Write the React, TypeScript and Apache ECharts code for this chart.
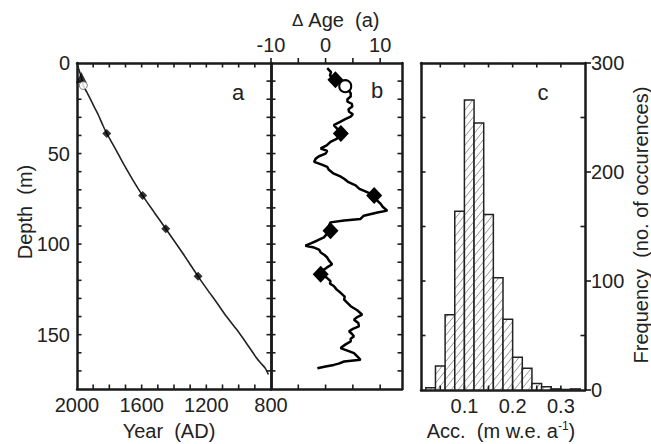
import React, { useEffect, useRef } from 'react';
import * as echarts from 'echarts';

// Panel a: age-depth curve
const aYear = [1998, 1985, 1972, 1961, 1940, 1920, 1895, 1868, 1842, 1816, 1765, 1713, 1655, 1594, 1522, 1451, 1350, 1251, 1195, 1135, 1075, 1012, 950, 888, 860, 836, 816];
const aDepth = [1, 4.5, 8.3, 12.4, 16, 19.4, 24, 28.7, 34, 38.9, 47, 55.6, 64.5, 73.2, 82.5, 91.5, 104.5, 117.8, 125, 132.4, 140, 147.2, 155, 163, 166, 168.5, 172];
const aDiamondYear = [1816, 1594, 1451, 1251];
const aDiamondDepth = [38.9, 73.2, 91.5, 117.8];
const aTriangle = [1973, 8];
const aCircle = [1961, 12.4];

// Panel b: delta age vs depth
const bDepth = [2.8, 5, 7, 9.3, 11, 13, 15, 16.7, 18.5, 20, 21.3, 22.5, 24, 25.5, 26.9, 28.3, 29.6, 31, 32.4, 34.3, 36.5, 38.9, 41.7, 43.5, 45.5, 47.2, 48.5, 50, 51.5, 52.8, 54.6, 56, 57.4, 59, 61.1, 62.5, 63.9, 65.8, 67.6, 69.5, 71.3, 73.1, 75.5, 77.8, 79.5, 81.5, 82.5, 84.3, 86.1, 87, 88, 90, 92.6, 94.5, 96.3, 98, 99.5, 100.9, 101.9, 103, 104.6, 106, 107.4, 109, 111.1, 113, 114.5, 116.7, 118.5, 120.4, 121.8, 123.1, 125, 126.9, 129, 130.6, 132.5, 134.3, 136.5, 138.9, 140.3, 141.7, 143.5, 145.4, 146.8, 148.1, 149.5, 150.9, 152.3, 153.7, 155.5, 157.4, 158.8, 160.2, 162, 163.9, 164.8, 166, 166.7, 167.6, 168.5];
const bAge = [0.3, 1.0, 0.8, 2.0, 2.5, 3.4, 4.2, 4.6, 4.6, 4.0, 4.0, 4.8, 4.9, 4.2, 4.3, 5.0, 4.6, 3.6, 2.75, 1.5, 2.2, 2.75, 2.1, 0.9, 0.2, -0.9, 0.3, 0, -1.2, -1.8, -2.1, -0.8, 0.3, 0.6, 1.5, 2.6, 3.4, 4.2, 5.5, 6.2, 7.6, 8.9, 9.3, 10.1, 10.5, 11.3, 9.5, 7.0, 6.4, 3.4, 0.9, 0.6, 0.9, 0.2, -0.3, -1.5, -2.6, -3.7, -2.1, -1.2, -0.9, -0.2, 0.3, 0.6, 1.2, 0.2, -0.5, -0.9, 0.2, 0.9, 0.8, 1.5, 2.0, 2.75, 3.5, 3.4, 4.0, 4.6, 5.8, 6.7, 5.8, 5.2, 6.0, 6.1, 5.0, 4.3, 4.8, 5.2, 4.6, 4.6, 3.6, 2.75, 4.0, 5.2, 5.8, 6.4, 3.4, 2.4, 1.5, 0, -1.5];
const bDiamondAge = [1.8, 2.8, 8.9, 0.9, -0.9];
const bDiamondDepth = [9.3, 38.9, 73.1, 92.6, 116.7];
const bCircle = [3.6, 12.8];

// Panel c: histogram of accumulation
const binStart = [0.02, 0.04, 0.06, 0.08, 0.10, 0.12, 0.14, 0.16, 0.18, 0.20, 0.22, 0.24, 0.26, 0.28, 0.30, 0.32];
const binWidth = 0.02;
const freq = [2, 22, 69, 164, 266, 245, 161, 103, 65, 30, 20, 6, 3, 1, 0.5, 1];

// Axis ranges
const yearMin = 800, yearMax = 2000;
const depthMin = 0, depthMax = 180;
const ageMin = -10, ageMax = 14;
const accMin = 0.01, accMax = 0.35;
const freqMin = 0, freqMax = 300;

// Tick labels and tick positions
const yearLabels = [2000, 1600, 1200, 800];
const yearTicks = [900, 1000, 1100, 1200, 1300, 1400, 1500, 1600, 1700, 1800, 1900];
const depthLabels = [0, 50, 100, 150];
const depthTicks = [10, 20, 30, 40, 50, 60, 70, 80, 90, 100, 110, 120, 130, 140, 150, 160, 170];
const ageLabels = [-10, 0, 10];
const ageTicks = [-5, 0, 5, 10];
const accLabels = [0.1, 0.2, 0.3];
const accTicks = [0.05, 0.1, 0.15, 0.2, 0.25, 0.3];
const freqLabels = [0, 100, 200, 300];
const freqMajor = [0, 100, 200, 300];
const freqMinor = [50, 150, 250];
const freqLeftTicks = [50, 100, 150, 200, 250];

const FONT = 'Liberation Sans, Arial, sans-serif';
const AX = '#1a1a1a';

export default function App() {
  const ref = useRef<HTMLDivElement>(null);
  useEffect(() => {
    if (!ref.current) return;
    const chart = echarts.init(ref.current, null, { renderer: 'svg' });
    const axisLine = { show: true, onZero: false, lineStyle: { color: AX, width: 2.5 } };
    const label = { color: '#222', fontSize: 20, fontFamily: FONT, formatter: (v: number) => String(v) };
    const noLabel = { show: false };
    const noTick = { show: false };
    const depthAxis = (gi: number, pos: string, extra: any = {}) => ({
      type: 'value', gridIndex: gi, position: pos, min: depthMin, max: depthMax, interval: 10, inverse: true,
      axisLine, axisTick: noTick, axisLabel: noLabel, splitLine: { show: false }, ...extra,
    });

    const bars = binStart.map((s, i) => [s, s + binWidth, freq[i]]);

    // tick items: [x value, y value, dx px, dy px]
    const ticksA = [
      ...yearTicks.map((v) => [v, depthMin, 0, 4.5]),
      ...yearTicks.map((v) => [v, depthMax, 0, -4.5]),
      ...depthTicks.map((d) => [yearMax, d, 4.5, 0]),
      ...depthTicks.map((d) => [yearMin, d, -4.5, 0]),
    ];
    const ticksB = [
      ...ageTicks.map((v) => [v, depthMin, 0, -5]),
      [ageMin, depthMin, 0, -5],
      ...ageTicks.map((v) => [v, depthMax, 0, -4.5]),
      ...depthTicks.map((d) => [ageMin, d, 4.5, 0]),
      ...depthTicks.map((d) => [ageMax, d, -4.5, 0]),
    ];
    const ticksC = [
      ...accTicks.map((v) => [v, freqMax, 0, 4.5]),
      ...accTicks.map((v) => [v, freqMin, 0, -4.5]),
      ...freqLeftTicks.map((f) => [accMin, f, 4.5, 0]),
      ...freqMajor.map((f) => [accMax, f, 6, 0]),
      ...freqMinor.map((f) => [accMax, f, -4.5, 0]),
    ];
    const tickSeries = (xi: number, yi: number, data: number[][]) => ({
      type: 'custom', xAxisIndex: xi, yAxisIndex: yi, data, encode: { x: 0, y: 1 }, clip: false, z: 5,
      renderItem: (params: any, api: any) => {
        const p = api.coord([api.value(0), api.value(1)]);
        const dx = api.value(2), dy = api.value(3);
        return { type: 'line', shape: { x1: p[0], y1: p[1], x2: p[0] + dx, y2: p[1] + dy },
          style: { stroke: AX, lineWidth: 1.6 } };
      },
    });

    const option: any = {
      animation: false,
      backgroundColor: '#fff',
      grid: [
        { left: 77, top: 63, width: 194, height: 326, containLabel: false, outerBoundsMode: 'none' },
        { left: 271, top: 63, width: 131, height: 326, containLabel: false, outerBoundsMode: 'none' },
        { left: 421, top: 63, width: 164, height: 327, containLabel: false, outerBoundsMode: 'none' },
      ],
      xAxis: [
        { type: 'value', gridIndex: 0, position: 'bottom', min: yearMin, max: yearMax, interval: 100, inverse: true,
          axisLine, axisTick: noTick, splitLine: { show: false },
          axisLabel: { ...label, margin: 6, customValues: yearLabels } },
        { type: 'value', gridIndex: 0, position: 'top', min: yearMin, max: yearMax, interval: 100, inverse: true,
          axisLine, axisTick: noTick, splitLine: { show: false }, axisLabel: noLabel },
        { type: 'value', gridIndex: 1, position: 'bottom', min: ageMin, max: ageMax, interval: 5,
          axisLine, axisTick: noTick, splitLine: { show: false }, axisLabel: noLabel },
        { type: 'value', gridIndex: 1, position: 'top', min: ageMin, max: ageMax, interval: 5,
          axisLine, axisTick: noTick, splitLine: { show: false },
          axisLabel: { ...label, margin: 8, customValues: ageLabels } },
        { type: 'value', gridIndex: 2, position: 'bottom', min: accMin, max: accMax,
          axisLine, axisTick: noTick, splitLine: { show: false },
          axisLabel: { ...label, margin: 6, customValues: accLabels, formatter: (v: number) => v.toFixed(1) } },
        { type: 'value', gridIndex: 2, position: 'top', min: accMin, max: accMax,
          axisLine, axisTick: noTick, splitLine: { show: false }, axisLabel: noLabel },
      ],
      yAxis: [
        depthAxis(0, 'left', { axisLabel: { ...label, margin: 7, customValues: depthLabels } }),
        depthAxis(0, 'right'),
        depthAxis(1, 'left'),
        depthAxis(1, 'right'),
        { type: 'value', gridIndex: 2, position: 'left', min: freqMin, max: freqMax, interval: 50,
          axisLine, axisTick: noTick, splitLine: { show: false }, axisLabel: noLabel },
        { type: 'value', gridIndex: 2, position: 'right', min: freqMin, max: freqMax, interval: 100,
          axisLine, axisTick: noTick,
          splitLine: { show: false }, axisLabel: { ...label, margin: 6, customValues: freqLabels } },
      ],
      series: [
        { type: 'line', xAxisIndex: 0, yAxisIndex: 0, smooth: 0.3, showSymbol: false, symbol: 'none',
          data: aYear.map((y, i) => [y, aDepth[i]]), lineStyle: { color: '#222', width: 1.6 }, z: 2 },
        { type: 'scatter', xAxisIndex: 0, yAxisIndex: 0, symbol: 'diamond', symbolSize: 9,
          data: aDiamondYear.map((y, i) => [y, aDiamondDepth[i]]), itemStyle: { color: '#000' }, z: 3 },
        { type: 'scatter', xAxisIndex: 0, yAxisIndex: 0, symbol: 'triangle', symbolSize: 11,
          data: [aTriangle], itemStyle: { color: '#000' }, z: 3 },
        { type: 'scatter', xAxisIndex: 0, yAxisIndex: 0, symbol: 'circle', symbolSize: 8,
          data: [aCircle], itemStyle: { color: '#fff', borderColor: '#555', borderWidth: 1 }, z: 3 },
        { type: 'line', xAxisIndex: 2, yAxisIndex: 2, showSymbol: false, symbol: 'none',
          data: bAge.map((a, i) => [a, bDepth[i]]), lineStyle: { color: '#000', width: 2.5 }, z: 2 },
        { type: 'scatter', xAxisIndex: 2, yAxisIndex: 2, symbol: 'diamond', symbolSize: [16, 17],
          data: bDiamondAge.map((a, i) => [a, bDiamondDepth[i]]), itemStyle: { color: '#000', opacity: 1 }, z: 3 },
        { type: 'scatter', xAxisIndex: 2, yAxisIndex: 2, symbol: 'circle', symbolSize: 12,
          data: [bCircle], itemStyle: { color: '#fff', borderColor: '#000', borderWidth: 2, opacity: 1 }, z: 3 },
        { type: 'custom', xAxisIndex: 4, yAxisIndex: 4, data: bars, encode: { x: [0, 1], y: 2 },
          renderItem: (params: any, api: any) => {
            const x0 = api.value(0), x1 = api.value(1), f = api.value(2);
            const tl = api.coord([x0, f]);
            const br = api.coord([x1, 0]);
            const rx0 = tl[0], ry0 = tl[1], rx1 = br[0], ry1 = br[1];
            const children: any[] = [
              { type: 'rect', shape: { x: rx0, y: ry0, width: rx1 - rx0, height: ry1 - ry0 }, style: { fill: '#fff' } },
            ];
            const k = 0.8, step = 7;
            const cMin = rx0 + k * ry0, cMax = rx1 + k * ry1;
            for (let c = Math.ceil(cMin / step) * step; c <= cMax; c += step) {
              const ya = Math.max(ry0, (c - rx1) / k);
              const yb = Math.min(ry1, (c - rx0) / k);
              if (yb > ya) {
                children.push({ type: 'line', shape: { x1: c - k * ya, y1: ya, x2: c - k * yb, y2: yb },
                  style: { stroke: '#8a8a8a', lineWidth: 0.9 } });
              }
            }
            children.push({ type: 'rect', shape: { x: rx0, y: ry0, width: rx1 - rx0, height: ry1 - ry0 },
              style: { fill: 'none', stroke: '#222', lineWidth: 1.5 } });
            return { type: 'group', children };
          }, z: 1 },
        tickSeries(0, 0, ticksA),
        tickSeries(2, 2, ticksB),
        tickSeries(4, 4, ticksC),
      ],
      graphic: [
        { type: 'text', x: 238, y: 92, style: { text: 'a', font: `22px ${FONT}`, fill: '#222', align: 'center', verticalAlign: 'middle' } },
        { type: 'text', x: 377, y: 90, style: { text: 'b', font: `22px ${FONT}`, fill: '#222', align: 'center', verticalAlign: 'middle' } },
        { type: 'text', x: 543, y: 92, style: { text: 'c', font: `22px ${FONT}`, fill: '#222', align: 'center', verticalAlign: 'middle' } },
        { type: 'text', x: 336, y: 20, style: { text: '{d|Δ} Age  (a)', font: `20px ${FONT}`, fill: '#222', align: 'center', verticalAlign: 'middle',
          rich: { d: { fontSize: 17, fontFamily: FONT, fill: '#222' } } } },
        { type: 'text', x: 169, y: 431, style: { text: 'Year  (AD)', font: `20px ${FONT}`, fill: '#222', align: 'center', verticalAlign: 'middle' } },
        { type: 'text', x: 501, y: 431, style: { text: 'Acc.  (m w.e. a{s|-1})', font: `20px ${FONT}`, fill: '#222', align: 'center', verticalAlign: 'middle',
          rich: { s: { fontSize: 12, fontFamily: FONT, fill: '#222', verticalAlign: 'top', padding: [0, 0, 10, 0] } } } },
        { type: 'text', x: 25, y: 212, rotation: Math.PI / 2, style: { text: 'Depth  (m)', font: `20px ${FONT}`, fill: '#222', align: 'center', verticalAlign: 'middle' } },
        { type: 'text', x: 641, y: 225, rotation: Math.PI / 2, style: { text: 'Frequency  (no. of occurences)', font: `20px ${FONT}`, fill: '#222', align: 'center', verticalAlign: 'middle' } },
      ],
    };
    chart.setOption(option);
    return () => chart.dispose();
  }, []);
  return <div ref={ref} style={{ position: 'absolute', left: 0, top: 0, width: 651, height: 444, background: '#fff' }} />;
}
